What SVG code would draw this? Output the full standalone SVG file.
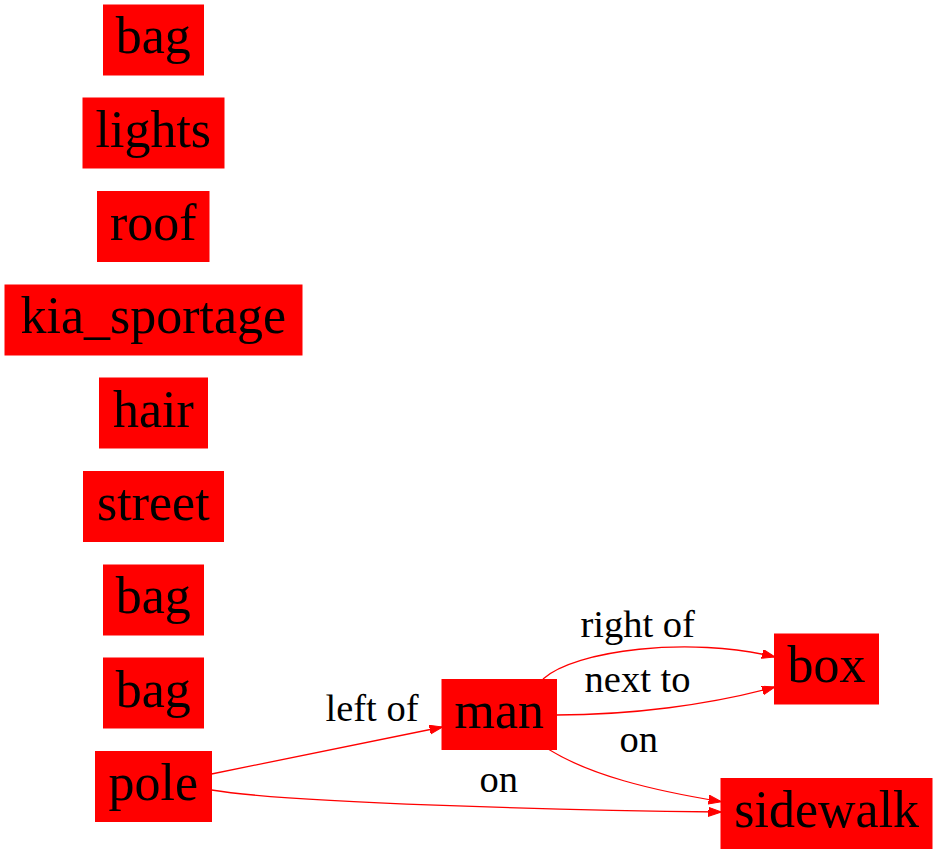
<svg xmlns="http://www.w3.org/2000/svg" width="937" height="853" viewBox="0 0 937 853">
<style>
.node rect{fill:#ff0000;stroke:#ff0000;stroke-width:1}
.node text{font-size:52px;text-anchor:middle;fill:#000}
.edge path{fill:none;stroke:#ff0000;stroke-width:1.3}
.elabel{font-size:38.5px;text-anchor:middle;fill:#000}
</style>
<defs>
<marker id="arrow" markerUnits="userSpaceOnUse" markerWidth="14" markerHeight="10" refX="13" refY="4.5" orient="auto" viewBox="0 0 14 10">
<path d="M0,0 L13,4.5 L0,9 z" fill="#ff0000" stroke="#ff0000" stroke-width="1"/>
</marker>
</defs>
<rect width="937" height="853" fill="#ffffff"/>
<g font-family="Liberation Serif, Times New Roman, DejaVu Serif, serif">
<g id="bag1" class="node"><rect x="103.5" y="5" width="100" height="70"/><text x="153.3" y="53.3">bag</text></g>
<g id="lights" class="node"><rect x="83" y="98" width="141" height="70"/><text x="153.3" y="146.6">lights</text></g>
<g id="roof" class="node"><rect x="97.5" y="191.5" width="111.5" height="70"/><text x="153.3" y="240">roof</text></g>
<g id="kia_sportage" class="node"><rect x="5" y="285" width="297" height="70"/><text x="153.3" y="333.3">kia_sportage</text></g>
<g id="hair" class="node"><rect x="99.5" y="378" width="108" height="70"/><text x="153.3" y="426.6">hair</text></g>
<g id="street" class="node"><rect x="83.5" y="471.5" width="140" height="70"/><text x="153.3" y="520">street</text></g>
<g id="bag2" class="node"><rect x="103.5" y="565" width="100" height="70"/><text x="153.3" y="613.3">bag</text></g>
<g id="bag3" class="node"><rect x="103.5" y="658" width="100" height="70"/><text x="153.3" y="706.6">bag</text></g>
<g id="pole" class="node"><rect x="95.5" y="751.5" width="116" height="70"/><text x="153.3" y="800">pole</text></g>
<g id="man" class="node"><rect x="442" y="679.5" width="114.5" height="70"/><text x="499.3" y="728">man</text></g>
<g id="box" class="node"><rect x="774.5" y="634" width="104" height="70"/><text x="826.5" y="682.3">box</text></g>
<g id="sidewalk" class="node"><rect x="721" y="778.5" width="211" height="70"/><text x="826.7" y="826.8">sidewalk</text></g>
<g id="edges" class="edge">
<path d="M211.5,774 C290,758 370,742 442.5,727" marker-end="url(#arrow)"/>
<path d="M211.5,790 C290,803 560,810 721.5,812" marker-end="url(#arrow)"/>
<path d="M543,679 C575,650 690,636 775,657" marker-end="url(#arrow)"/>
<path d="M556,715 C630,715 710,705 775,687" marker-end="url(#arrow)"/>
<path d="M548.5,749.3 C590,775 650,790 721.5,801.7" marker-end="url(#arrow)"/>
<text class="elabel" x="372" y="720.7">left of</text>
<text class="elabel" x="498.8" y="791.7">on</text>
<text class="elabel" x="637.7" y="636.7">right of</text>
<text class="elabel" x="637.5" y="691.7">next to</text>
<text class="elabel" x="638.8" y="751.7">on</text>
</g>
</g>
</svg>
